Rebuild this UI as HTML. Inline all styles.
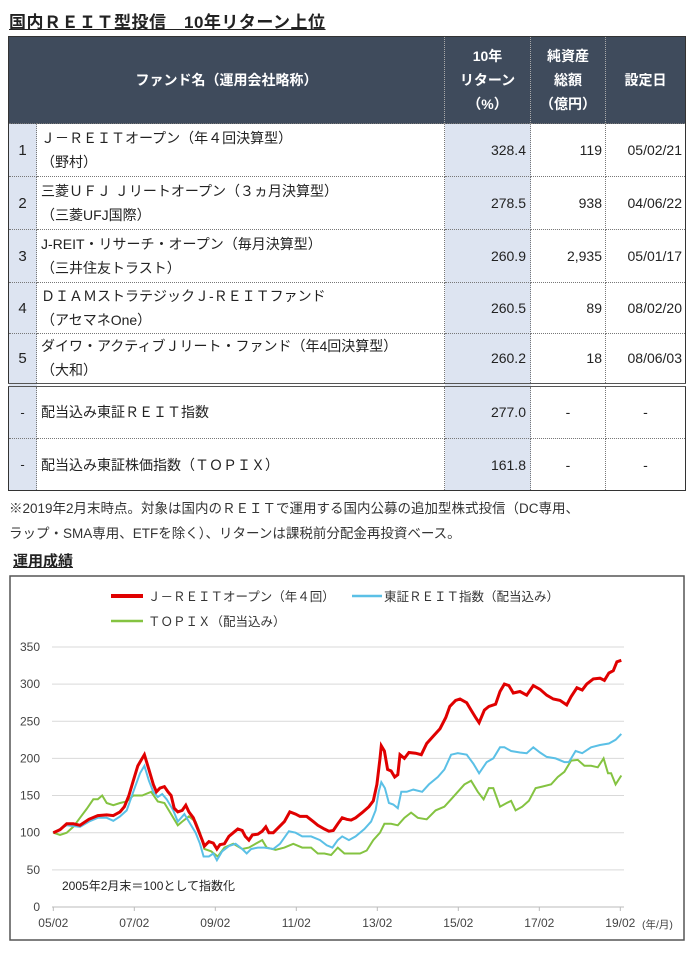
<!DOCTYPE html>
<html><head><meta charset="utf-8"><style>
body{margin:0;width:696px;height:967px;background:#fff;position:relative;overflow:hidden;font-family:"Liberation Sans","Noto Sans CJK JP",sans-serif;color:#222}
.a{position:absolute;white-space:nowrap}
.title{left:9px;top:8px;font-size:17px;font-weight:bold;text-decoration:underline;letter-spacing:0.5px}
table{position:absolute;left:8px;top:36px;border-collapse:collapse;border:1.5px solid #333;font-size:14px}
td{border:1px dotted #777;padding:0;vertical-align:middle}
th{background:#3f4b5c;color:#fff;font-weight:bold;border-left:1px dotted #aaa;font-size:14px;line-height:24px;padding:0}
.n{background:#dde4f1;text-align:center;font-size:15px}
.r{background:#dde4f1;text-align:right;padding-right:4px}
.v{text-align:right;padding-right:3px}
.d{text-align:right;padding-right:3px}
.nm{padding-left:4px;line-height:24px}
.dbl td{border-top:4px double #555}
</style></head><body>
<div class="a title">国内ＲＥＩＴ型投信　10年リターン上位</div>
<table>
<colgroup><col style="width:28px"><col style="width:408px"><col style="width:86px"><col style="width:75px"><col style="width:80px"></colgroup>
<tr style="height:87px"><th colspan="2" style="border-left:none">ファンド名（運用会社略称）</th><th>10年<br>リターン<br>（%）</th><th>純資産<br>総額<br>（億円）</th><th>設定日</th></tr>
<tr style="height:53px"><td class="n">1</td><td class="nm">Ｊ－ＲＥＩＴオープン（年４回決算型）<br>（野村）</td><td class="r">328.4</td><td class="v">119</td><td class="d">05/02/21</td></tr>
<tr style="height:53px"><td class="n">2</td><td class="nm">三菱ＵＦＪ Ｊリートオープン（３ヵ月決算型）<br>（三菱UFJ国際）</td><td class="r">278.5</td><td class="v">938</td><td class="d">04/06/22</td></tr>
<tr style="height:53px"><td class="n">3</td><td class="nm">J-REIT・リサーチ・オープン（毎月決算型）<br>（三井住友トラスト）</td><td class="r">260.9</td><td class="v">2,935</td><td class="d">05/01/17</td></tr>
<tr style="height:51px"><td class="n">4</td><td class="nm">ＤＩＡＭストラテジックＪ-ＲＥＩＴファンド<br>（アセマネOne）</td><td class="r">260.5</td><td class="v">89</td><td class="d">08/02/20</td></tr>
<tr style="height:51px"><td class="n">5</td><td class="nm">ダイワ・アクティブＪリート・ファンド（年4回決算型）<br>（大和）</td><td class="r">260.2</td><td class="v">18</td><td class="d">08/06/03</td></tr>
<tr style="height:54px" class="dbl"><td class="n" style="font-size:13px">-</td><td class="nm">配当込み東証ＲＥＩＴ指数</td><td class="r">277.0</td><td style="text-align:center">-</td><td style="text-align:center">-</td></tr>
<tr style="height:52px"><td class="n" style="font-size:13px">-</td><td class="nm">配当込み東証株価指数（ＴＯＰＩＸ）</td><td class="r">161.8</td><td style="text-align:center">-</td><td style="text-align:center">-</td></tr>
</table>
<div class="a" style="left:9px;top:496px;font-size:13.5px;line-height:25px;color:#333">※2019年2月末時点。対象は国内のＲＥＩＴで運用する国内公募の追加型株式投信（DC専用、<br>ラップ・SMA専用、ETFを除く）、リターンは課税前分配金再投資ベース。</div>
<div class="a" style="left:13px;top:550px;font-size:15px;font-weight:bold;text-decoration:underline">運用成績</div>
<svg class="a" style="left:0;top:0" width="696" height="967" id="s">
<rect x="10" y="576" width="674" height="364" fill="none" stroke="#555" stroke-width="1.5"/>
<g stroke="#d9d9d9" stroke-width="1" id="grid"></g>
<g font-size="12" fill="#444" font-family="Liberation Sans,sans-serif" id="lab"></g>
<line x1="111" y1="596" x2="143" y2="596" stroke="#e00000" stroke-width="4"/>
<text x="148" y="601" font-size="12.5" fill="#333">Ｊ－ＲＥＩＴオープン（年４回）</text>
<line x1="352" y1="596" x2="382" y2="596" stroke="#5bc0e6" stroke-width="2.5"/>
<text x="384" y="601" font-size="12.5" fill="#333">東証ＲＥＩＴ指数（配当込み）</text>
<line x1="111" y1="621" x2="143" y2="621" stroke="#84c341" stroke-width="2.5"/>
<text x="148" y="626" font-size="12.5" fill="#333">ＴＯＰＩＸ（配当込み）</text>
<text x="62" y="890" font-size="12" fill="#222">2005年2月末＝100として指数化</text>
<polyline id="g" fill="none" stroke="#84c341" stroke-width="2"/>
<polyline id="b" fill="none" stroke="#5bc0e6" stroke-width="2"/>
<polyline id="r" fill="none" stroke="#e00000" stroke-width="3"/>
</svg>
<script>
var R=[120,100,135,104,150,112,165,112,180,110,200,118,220,123,240,124,255,123,270,128,280,135,290,150,300,170,310,190,320,200,325,205,335,185,345,165,352,155,360,160,370,162,378,155,385,150,392,133,400,128,410,130,418,137,425,128,435,120,445,105,455,90,460,82,470,88,480,86,488,78,495,84,505,85,515,95,525,100,535,105,545,103,552,95,560,90,568,97,580,98,590,102,598,108,605,100,615,100,625,106,640,115,652,128,665,125,675,122,690,122,705,115,715,110,730,105,740,102,750,103,760,112,770,120,780,118,790,117,800,120,815,127,830,135,840,143,848,165,855,200,858,217,865,210,872,185,880,183,888,175,895,178,900,205,910,200,920,208,935,207,948,205,960,220,975,230,990,240,1003,255,1012,270,1025,278,1035,280,1050,275,1060,265,1070,255,1078,248,1090,265,1100,270,1115,273,1125,290,1135,300,1145,298,1155,288,1170,290,1185,285,1200,298,1215,293,1230,285,1245,280,1260,278,1275,272,1285,283,1298,295,1310,292,1320,300,1335,307,1350,308,1360,305,1370,315,1380,318,1388,330,1398,332];
var B=[120,100,150,110,180,108,200,115,220,120,240,120,255,116,270,122,285,130,300,155,315,180,325,190,335,170,345,155,355,148,365,152,375,145,390,130,400,115,415,125,425,115,440,100,450,85,458,68,470,68,480,72,488,63,500,75,515,82,530,85,545,78,555,72,565,78,580,80,595,80,615,78,630,85,650,102,665,100,680,95,700,95,720,90,735,83,748,80,760,90,770,95,785,90,800,95,820,105,835,115,845,130,852,155,858,168,866,160,875,140,885,138,895,133,903,155,915,155,930,158,950,155,965,165,985,175,1000,185,1015,205,1030,207,1050,205,1065,193,1078,180,1095,195,1110,200,1125,215,1135,215,1150,210,1170,208,1185,207,1200,215,1215,208,1230,202,1250,200,1270,195,1280,195,1295,210,1310,207,1330,215,1350,218,1370,220,1385,225,1398,233];
var G=[120,100,135,97,150,100,165,108,180,120,195,132,210,145,220,145,230,150,240,140,255,137,270,140,285,142,300,150,320,150,340,155,355,142,370,140,385,125,400,110,410,115,425,122,440,115,450,100,460,78,475,75,490,68,505,80,525,85,545,78,560,80,575,85,590,90,600,80,620,77,640,80,660,85,680,80,700,80,715,72,730,72,745,70,760,80,775,72,790,72,810,72,825,76,840,90,855,100,865,112,880,112,895,110,910,120,925,127,940,120,960,118,980,130,1000,135,1015,145,1030,155,1045,165,1060,170,1075,155,1088,145,1100,160,1110,160,1125,135,1140,140,1150,143,1160,130,1175,135,1190,143,1205,160,1220,162,1240,165,1255,175,1270,182,1285,197,1300,198,1315,190,1330,190,1345,188,1358,200,1368,180,1375,180,1385,165,1398,177];
function P(a){var s=[];for(var i=0;i<a.length;i+=2)s.push((a[i]/2.25).toFixed(1)+","+(907-a[i+1]*0.743).toFixed(1));return s.join(" ")}
document.getElementById('r').setAttribute('points',P(R));
document.getElementById('b').setAttribute('points',P(B));
document.getElementById('g').setAttribute('points',P(G));
var ns="http://www.w3.org/2000/svg",g=document.getElementById('grid'),l=document.getElementById('lab');
for(var v=0;v<=350;v+=50){var y=907-v*0.743;var ln=document.createElementNS(ns,'line');ln.setAttribute('x1',52);ln.setAttribute('x2',624);ln.setAttribute('y1',y);ln.setAttribute('y2',y);if(v==0)ln.setAttribute('stroke','#bbb');g.appendChild(ln);
var t=document.createElementNS(ns,'text');t.setAttribute('x',40);t.setAttribute('y',y+4);t.setAttribute('text-anchor','end');t.textContent=v;l.appendChild(t);}
var xl=["05/02","07/02","09/02","11/02","13/02","15/02","17/02","19/02"];
for(var i=0;i<8;i++){var x=53.3+i*81;var tk=document.createElementNS(ns,'line');tk.setAttribute('x1',x);tk.setAttribute('x2',x);tk.setAttribute('y1',907);tk.setAttribute('y2',911);tk.setAttribute('stroke','#bbb');g.appendChild(tk);
var t=document.createElementNS(ns,'text');t.setAttribute('x',x);t.setAttribute('y',927);t.setAttribute('text-anchor','middle');t.textContent=xl[i];l.appendChild(t);}
var t=document.createElementNS(ns,'text');t.setAttribute('x',642);t.setAttribute('y',928);t.setAttribute('font-size','10.5');t.textContent="(年/月)";l.appendChild(t);
</script>
</body></html>
